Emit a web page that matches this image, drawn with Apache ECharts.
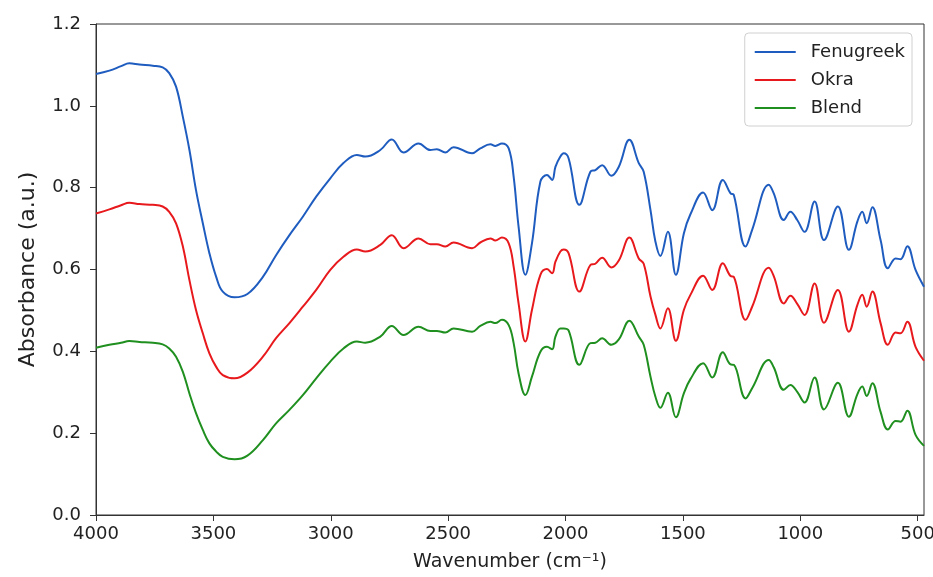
<!DOCTYPE html>
<html>
<head>
<meta charset="utf-8">
<script src="https://cdn.jsdelivr.net/npm/echarts@6/dist/echarts.min.js"></script>
<style>
html,body{margin:0;padding:0;background:#fff;}
#main{width:933px;height:577px;}
</style>
</head>
<body>
<div id="main"></div>
<script>
// wavenumber (cm-1), shared by the three spectra
var wn = [4000,3943,3893,3858,3815,3758,3716,3688,3659,3630,3602,3574,3545,3517,3488,3460,3410,3355,3289,3233,
  3176,3119,3062,3002,2946,2889,2853,2789,2740,2690,2626,2576,2548,2512,2477,2398,2363,2320,2299,2271,
  2242,2221,2200,2171,2143,2107,2079,2057,2043,2022,2008,1987,1941,1894,1873,1844,1805,1773,1728,1688,
  1667,1638,1617,1596,1564,1530,1496,1468,1414,1375,1330,1297,1283,1233,1205,1134,1113,1070,1042,1013,
  982,939,899,840,793,757,736,717,693,658,627,594,573,544,509,473];

var fenugreek = [1.078,1.086,1.097,1.104,1.101,1.098,1.094,1.080,1.047,0.973,0.892,0.794,0.713,0.640,0.582,0.546,0.532,0.540,0.582,0.635,
  0.684,0.729,0.778,0.823,0.860,0.880,0.876,0.892,0.918,0.886,0.908,0.892,0.894,0.886,0.899,0.884,0.896,0.906,0.902,0.908,
  0.896,0.827,0.705,0.587,0.664,0.815,0.831,0.819,0.851,0.876,0.884,0.872,0.758,0.839,0.843,0.855,0.829,0.851,0.917,0.860,
  0.839,0.745,0.668,0.633,0.692,0.587,0.688,0.735,0.788,0.745,0.819,0.786,0.782,0.656,0.697,0.807,0.786,0.721,0.741,0.721,
  0.692,0.766,0.672,0.754,0.648,0.717,0.741,0.713,0.752,0.672,0.603,0.627,0.625,0.657,0.599,0.558];

var okra = [0.737,0.747,0.757,0.763,0.760,0.758,0.754,0.741,0.713,0.656,0.574,0.501,0.444,0.395,0.362,0.342,0.334,0.348,0.387,0.432,
  0.469,0.509,0.550,0.599,0.631,0.649,0.644,0.660,0.684,0.652,0.676,0.662,0.662,0.656,0.666,0.652,0.666,0.676,0.671,0.678,
  0.664,0.607,0.517,0.424,0.501,0.587,0.601,0.591,0.619,0.644,0.649,0.640,0.546,0.611,0.614,0.629,0.605,0.622,0.678,0.627,
  0.614,0.534,0.489,0.456,0.505,0.426,0.501,0.538,0.585,0.550,0.615,0.584,0.582,0.477,0.509,0.604,0.584,0.517,0.536,0.516,
  0.489,0.566,0.470,0.550,0.448,0.513,0.538,0.509,0.546,0.469,0.416,0.446,0.444,0.472,0.411,0.377];

var blend = [0.409,0.416,0.421,0.425,0.423,0.421,0.417,0.407,0.387,0.350,0.297,0.249,0.208,0.175,0.155,0.142,0.136,0.145,0.183,0.224,
  0.257,0.293,0.334,0.375,0.407,0.424,0.421,0.436,0.462,0.440,0.460,0.450,0.450,0.446,0.456,0.448,0.462,0.472,0.469,0.477,
  0.464,0.420,0.346,0.293,0.338,0.399,0.411,0.405,0.436,0.456,0.456,0.451,0.367,0.420,0.421,0.432,0.416,0.429,0.475,0.436,
  0.416,0.338,0.289,0.262,0.299,0.239,0.297,0.332,0.371,0.336,0.398,0.368,0.367,0.285,0.310,0.379,0.361,0.306,0.318,0.301,
  0.275,0.336,0.258,0.323,0.240,0.295,0.314,0.291,0.322,0.252,0.209,0.230,0.228,0.255,0.196,0.169];

var xTicks = [500,1000,1500,2000,2500,3000,3500,4000];
var names = ['Fenugreek','Okra','Blend'];
var colors = ['#1f5cbf','#e8191c','#1f8f1f'];

function pairs(vals){
  return wn.map(function(w,i){ return [w, vals[i]]; });
}

var font = 'DejaVu Sans';
var chart = echarts.init(document.getElementById('main'));
var option = {
  backgroundColor:'#fff',
  animation:false,
  grid:{left:96,top:24,right:9,bottom:62,outerBoundsMode:'none',containLabel:false,
    show:true,borderColor:'#333',borderWidth:1,backgroundColor:'transparent'},
  legend:{
    orient:'vertical',right:21,top:33,
    data:names,
    icon:'rect',itemWidth:41,itemHeight:2,itemGap:8,
    padding:[9,7,8,10],
    backgroundColor:'#fff',borderColor:'#d0d0d0',borderWidth:1,borderRadius:4,
    textStyle:{fontFamily:font,fontSize:18,color:'#222',lineHeight:20,padding:[0,0,0,10]}
  },
  xAxis:{
    type:'value',inverse:true,min:473,max:4000,
    name:'Wavenumber (cm⁻¹)',nameLocation:'middle',nameGap:38,
    nameTextStyle:{fontFamily:font,fontSize:19,color:'#222'},
    axisLine:{show:true,lineStyle:{color:'#333'}},
    axisTick:{show:true,length:6,customValues:xTicks,lineStyle:{color:'#333'}},
    axisLabel:{customValues:xTicks,fontFamily:font,fontSize:18,color:'#222',margin:10,
      formatter:function(v){ return String(v); }},
    splitLine:{show:false}
  },
  yAxis:{
    type:'value',min:0,max:1.2,interval:0.2,
    name:'Absorbance (a.u.)',nameLocation:'middle',nameGap:57,
    nameTextStyle:{fontFamily:font,fontSize:22,color:'#222'},
    axisLine:{show:true,lineStyle:{color:'#333'}},
    axisTick:{show:true,length:6,lineStyle:{color:'#333'}},
    axisLabel:{fontFamily:font,fontSize:18,color:'#222',margin:15,
      formatter:function(v){ return v.toFixed(1); }},
    splitLine:{show:false}
  },
  series:[
    {name:names[0],type:'line',data:pairs(fenugreek),symbol:'none',smooth:0.4,
      lineStyle:{width:2,color:colors[0]},itemStyle:{color:colors[0]}},
    {name:names[1],type:'line',data:pairs(okra),symbol:'none',smooth:0.4,
      lineStyle:{width:2,color:colors[1]},itemStyle:{color:colors[1]}},
    {name:names[2],type:'line',data:pairs(blend),symbol:'none',smooth:0.4,
      lineStyle:{width:2,color:colors[2]},itemStyle:{color:colors[2]}}
  ]
};
chart.setOption(option);
</script>
</body>
</html>
